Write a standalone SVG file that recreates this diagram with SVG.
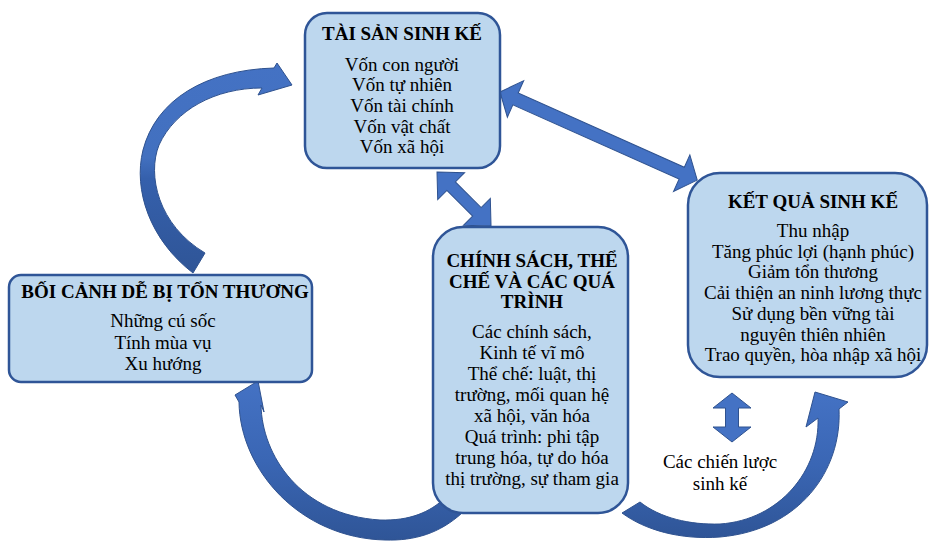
<svg xmlns="http://www.w3.org/2000/svg" width="930" height="541" viewBox="0 0 930 541">
<style>
.box{fill:#BDD7EE;stroke:#2F5597;stroke-width:2.5}
.arr{fill:#4472C4;stroke:#2F528F;stroke-width:1}
.t{font-family:"Liberation Serif","Times New Roman",serif;font-size:19px;fill:#000;text-anchor:middle}
.b{font-weight:bold}
</style>
<defs>
<linearGradient id="gTL" x1="0" y1="0" x2="0" y2="1">
<stop offset="0" stop-color="#4472C4"/><stop offset="0.45" stop-color="#4270BF"/><stop offset="0.55" stop-color="#3560AC"/><stop offset="1" stop-color="#2F5597"/>
</linearGradient>
<linearGradient id="gB" x1="0" y1="0" x2="0" y2="1">
<stop offset="0" stop-color="#4472C4"/><stop offset="0.5" stop-color="#3A66B4"/><stop offset="1" stop-color="#2F5597"/>
</linearGradient>
</defs>
<g id="connectors">
<path class="arr" style="fill:url(#gTL)" d="M193,273 C150,240 133,190 143,150 C156,100 205,70 274,68 L277,63 L292,85 L258,95 L262,88 C215,88 175,110 159,145 C147,175 158,225 205,253 Z"/>
<path class="arr" style="fill:url(#gB)" d="M258,381 L264,412 L261,405 C262,455 300,515 380,520 C410,521 430,512 445,498 L462,513 C440,533 415,541 385,540 C300,538 240,470 239,402 L235,395 Z"/>
<path class="arr" style="fill:url(#gB)" d="M815,392 L848,402 L839,409 C842,470 800,530 720,537 C680,540 645,530 622,513 L640,502 C660,518 690,525 720,524 C780,520 820,470 818,418 L806,427 Z"/>
<polygon class="arr" transform="translate(500,92) rotate(24.07)" points="0,0 17,-20 17,-6.5 199,-6.5 199,-20 216,0 199,20 199,6.5 17,6.5 17,20"/>
<polygon class="arr" transform="translate(437,172) rotate(45)" points="0,0 20,-19 20,-6 56.4,-6 56.4,-19 76.4,0 56.4,19 56.4,6 20,6 20,19"/>
<polygon class="arr" transform="translate(732,393) rotate(90)" points="0,0 15,-19 15,-6.5 34,-6.5 34,-19 49,0 34,19 34,6.5 15,6.5 15,19"/>
</g>
<g id="tai-san">
<rect class="box" x="305" y="13" width="195" height="155" rx="22"/>
<text class="t b" x="402" y="40">TÀI SẢN SINH KẾ</text>
<text class="t" x="402" y="70.5">Vốn con người</text>
<text class="t" x="402" y="91.2">Vốn tự nhiên</text>
<text class="t" x="402" y="111.9">Vốn tài chính</text>
<text class="t" x="402" y="132.6">Vốn vật chất</text>
<text class="t" x="402" y="153.3">Vốn xã hội</text>
</g>
<g id="ket-qua">
<rect class="box" x="688" y="173" width="239" height="204" rx="32"/>
<text class="t b" x="813" y="208">KẾT QUẢ SINH KẾ</text>
<text class="t" x="813" y="237">Thu nhập</text>
<text class="t" x="813" y="257.7">Tăng phúc lợi (hạnh phúc)</text>
<text class="t" x="813" y="278.4">Giảm tổn thương</text>
<text class="t" x="813" y="299.1">Cải thiện an ninh lương thực</text>
<text class="t" x="813" y="319.8">Sử dụng bền vững tài</text>
<text class="t" x="813" y="340.5">nguyên thiên nhiên</text>
<text class="t" x="813" y="361.2">Trao quyền, hòa nhập xã hội</text>
</g>
<g id="boi-canh">
<rect class="box" x="9" y="275" width="303" height="107" rx="12"/>
<text class="t b" x="165" y="298">BỐI CẢNH DỄ BỊ TỔN THƯƠNG</text>
<text class="t" x="163" y="327">Những cú sốc</text>
<text class="t" x="163" y="348.5">Tính mùa vụ</text>
<text class="t" x="163" y="370">Xu hướng</text>
</g>
<g id="chinh-sach">
<rect class="box" x="433" y="227" width="195" height="286" rx="30"/>
<text class="t b" x="532" y="267">CHÍNH SÁCH, THỂ</text>
<text class="t b" x="532" y="288">CHẾ VÀ CÁC QUÁ</text>
<text class="t b" x="532" y="308">TRÌNH</text>
<text class="t" x="532" y="338">Các chính sách,</text>
<text class="t" x="532" y="359">Kinh tế vĩ mô</text>
<text class="t" x="532" y="380">Thể chế: luật, thị</text>
<text class="t" x="532" y="401">trường, mối quan hệ</text>
<text class="t" x="532" y="422">xã hội, văn hóa</text>
<text class="t" x="532" y="443">Quá trình: phi tập</text>
<text class="t" x="532" y="464">trung hóa, tự do hóa</text>
<text class="t" x="532" y="485">thị trường, sự tham gia</text>
</g>
<g id="chien-luoc">
<text class="t" x="720" y="468">Các chiến lược</text>
<text class="t" x="720" y="490">sinh kế</text>
</g>
</svg>
